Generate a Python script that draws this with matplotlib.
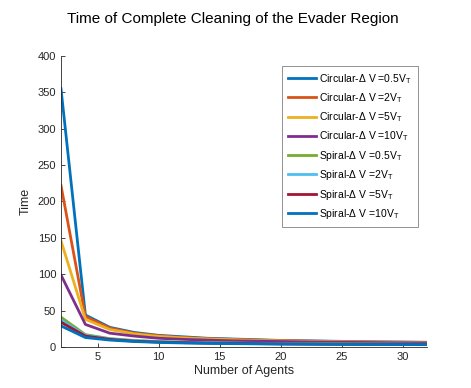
import numpy as np
import matplotlib
matplotlib.use("Agg")
import matplotlib.pyplot as plt

plt.rcParams['font.family'] = ['Liberation Sans', 'DejaVu Sans']
plt.rcParams['mathtext.fontset'] = 'custom'
plt.rcParams['mathtext.rm'] = 'Liberation Sans'
plt.rcParams['mathtext.it'] = 'Liberation Sans'

# number of agents
agents = [2, 4, 6, 8, 10, 12, 14, 16, 18, 20, 22, 24, 26, 28, 30, 32]

# time values
circ_05 = [355, 44, 27, 20, 16, 14, 12, 11, 10, 9, 8.5, 8, 7.5, 7, 6.8, 6.5]
circ_2 = [222, 42, 26, 19, 15.5, 13, 11.5, 10.5, 9.5, 8.8, 8.2, 7.7, 7.2, 6.8, 6.5, 6.2]
circ_5 = [146, 38, 24, 18, 14.5, 12.5, 11, 10, 9, 8.3, 7.8, 7.3, 6.9, 6.5, 6.2, 5.9]
circ_10 = [99, 31, 19, 15, 12, 10.5, 9.5, 8.5, 8, 7.5, 7, 6.6, 6.3, 6, 5.7, 5.5]
spir_05 = [41, 17, 11.5, 9, 7.5, 6.5, 6, 5.5, 5, 4.8, 4.6, 4.4, 4.2, 4, 3.9, 3.8]
spir_2 = [37, 16, 11, 8.5, 7, 6.2, 5.6, 5.2, 4.8, 4.5, 4.3, 4.1, 3.9, 3.8, 3.7, 3.6]
spir_5 = [34, 15, 10.5, 8, 6.8, 6, 5.4, 5, 4.6, 4.3, 4.1, 3.9, 3.8, 3.6, 3.5, 3.4]
spir_10 = [29, 13, 9.5, 7.5, 6.3, 5.5, 5, 4.6, 4.3, 4, 3.8, 3.6, 3.5, 3.4, 3.3, 3.2]

series = [circ_05, circ_2, circ_5, circ_10, spir_05, spir_2, spir_5, spir_10]
labels = ['Circular-$\\Delta$ V =0.5V$_T$', 'Circular-$\\Delta$ V =2V$_T$',
          'Circular-$\\Delta$ V =5V$_T$', 'Circular-$\\Delta$ V =10V$_T$',
          'Spiral-$\\Delta$ V =0.5V$_T$', 'Spiral-$\\Delta$ V =2V$_T$',
          'Spiral-$\\Delta$ V =5V$_T$', 'Spiral-$\\Delta$ V =10V$_T$']
colors = ['#0072BD', '#D95319', '#EDB120', '#7E2F8E',
          '#77AC30', '#4DBEEE', '#A2142F', '#0072BD']

fig = plt.figure(figsize=(4.71, 3.88), dpi=100)
ax = fig.add_axes([0.1295, 0.1057, 0.777, 0.75])

for s, lab, c in zip(series, labels, colors):
    ax.plot(agents, s, color=c, lw=2, label=lab)

ax.set_xlim(2, 32)
ax.set_ylim(0, 400)
ax.set_xticks([5, 10, 15, 20, 25, 30])
ax.set_yticks(np.arange(0, 401, 50))
for sp in ['top', 'right']:
    ax.spines[sp].set_visible(False)
for sp in ['left', 'bottom']:
    ax.spines[sp].set_color('#262626')
    ax.spines[sp].set_linewidth(0.6)
ax.tick_params(direction='in', length=3, width=0.6, colors='#262626', labelsize=8)
ax.set_xlabel('Number of Agents', fontsize=9, color='#262626', labelpad=2)
ax.set_ylabel('Time', fontsize=9, color='#262626', labelpad=4)

fig.text(0.495, 0.952, 'Time of Complete Cleaning of the Evader Region',
         ha='center', va='center', fontsize=11, color='black')

leg = ax.legend(loc='upper right', bbox_to_anchor=(0.99, 0.985), fontsize=7.5,
                handlelength=2.7, labelspacing=0.52, handletextpad=0.3,
                borderpad=0.6, fancybox=False, edgecolor='#808080', framealpha=1)
leg.get_frame().set_linewidth(0.6)

fig.savefig('out.png', dpi=100)
